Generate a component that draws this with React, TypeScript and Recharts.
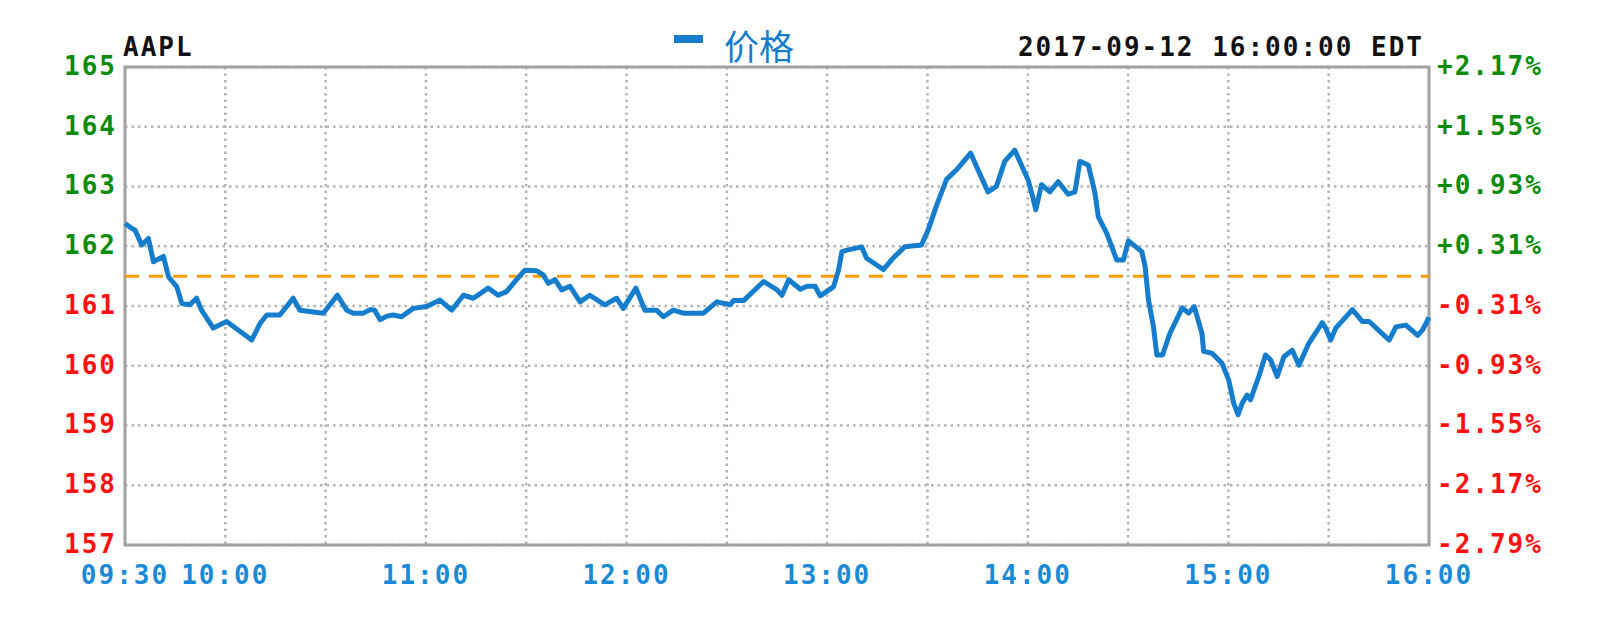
import React from 'react';
import { LineChart, Line, XAxis, YAxis, CartesianGrid, ReferenceLine, ReferenceArea } from 'recharts';

// minutes after 09:30 and last price (AAPL, 2017-09-12)
const minutes = [
	0, 2, 3, 5, 7, 8.5, 11.5, 13, 15.5, 17, 19.4, 21.4, 22.9, 26.4, 30.4, 37.9, 40.4, 42.4, 46.3, 50.3,
	52.3, 59.3, 63.5, 66.3, 68.3, 71.3, 73.3, 74.7, 76.3, 78.3, 80.2, 82.7, 86.2, 90.2, 94.2, 97.7, 101.2, 104.2, 108.6, 111.6,
	114.1, 117.1, 119.6, 123.1, 125.1, 126.6, 128.6, 130.6, 133.1, 136.1, 139, 143.5, 147, 149, 152.8, 155.5, 159, 161, 164, 167,
	173, 177, 181, 182, 185, 191, 195, 196.5, 198.5, 202, 204, 206.4, 207.9, 211.9, 213.4, 214.4, 216.3, 220.3, 221.8, 226.8,
	229.7, 233.2, 238.2, 240.2, 242.7, 245.7, 248.7, 252.9, 255.1, 258.1, 260.6, 263.1, 266.1, 270.1, 271.6, 272.4, 274.1, 276.6, 279.1, 282.1,
	284.1, 285.6, 288.1, 290.1, 291.1, 293.6, 296.6, 298.6, 300.1, 304.1, 305.1, 306.1, 307.6, 308.6, 310.3, 312.5, 316.2, 318.1, 319.8, 322.1,
	322.6, 325.1, 328.1, 330.1, 331.6, 332.9, 334.1, 335.6, 336.6, 339.1, 341.1, 342.6, 344.6, 346.6, 349.1, 351.1, 354.1, 358.1, 359.1, 360.6,
	362.1, 367.1, 370.1, 372.1, 378.1, 380.1, 383.1, 386.6, 388.1, 390,
];
const prices = [
	162.38, 162.3, 162.27, 162.02, 162.13, 161.74, 161.83, 161.49, 161.32, 161.04, 161.02, 161.13, 160.93, 160.63, 160.74, 160.43, 160.71, 160.85, 160.85, 161.13,
	160.93, 160.88, 161.18, 160.93, 160.88, 160.88, 160.94, 160.93, 160.77, 160.83, 160.85, 160.82, 160.96, 160.99, 161.1, 160.93, 161.18, 161.13, 161.3, 161.18,
	161.24, 161.44, 161.6, 161.59, 161.52, 161.38, 161.44, 161.27, 161.33, 161.07, 161.18, 161.02, 161.13, 160.96, 161.3, 160.93, 160.93, 160.82, 160.93, 160.88,
	160.88, 161.07, 161.02, 161.09, 161.09, 161.41, 161.27, 161.18, 161.44, 161.28, 161.33, 161.33, 161.17, 161.32, 161.6, 161.91, 161.94, 161.99, 161.8, 161.61,
	161.8, 161.99, 162.02, 162.27, 162.68, 163.12, 163.28, 163.56, 163.28, 162.91, 163.0, 163.42, 163.61, 163.11, 162.8, 162.61, 163.03, 162.91, 163.08, 162.87,
	162.91, 163.42, 163.36, 162.89, 162.49, 162.22, 161.77, 161.77, 162.09, 161.91, 161.66, 161.1, 160.65, 160.18, 160.18, 160.54, 160.97, 160.88, 160.99, 160.54,
	160.24, 160.21, 160.04, 159.76, 159.37, 159.18, 159.37, 159.51, 159.43, 159.82, 160.18, 160.1, 159.82, 160.15, 160.26, 160.01, 160.38, 160.72, 160.63, 160.43,
	160.63, 160.94, 160.74, 160.74, 160.43, 160.65, 160.68, 160.51, 160.6, 160.81,
];

const prevClose = 161.5;
const priceTicks = [157, 158, 159, 160, 161, 162, 163, 164, 165];
const timeTicks = [0, 30, 60, 90, 120, 150, 180, 210, 240, 270, 300, 330, 360, 390];
const timeLabels = ['09:30', '10:00', '', '11:00', '', '12:00', '', '13:00', '', '14:00', '', '15:00', '', '16:00'];

const symbol = 'AAPL';
const stamp = '2017-09-12 16:00:00 EDT';
const seriesName = '价格';

const BLUE = '#167dcc';
const LABEL_BLUE = '#1a8ad6';
const GREEN = '#0a8c0a';
const RED = '#ff1010';
const MONO = "'DejaVu Sans Mono', monospace";

const data = minutes.map((t, i) => ({ t, price: prices[i] }));

const pct = (v: number) => {
	const p = ((v - prevClose) / prevClose) * 100;
	return (p >= 0 ? '+' : '') + p.toFixed(2) + '%';
};

const LeftTick = (props: any) => {
	const { x, y, payload } = props;
	const v = payload.value;
	return (
		<text x={x} y={y} dy="0.3em" textAnchor="end" fill={v >= prevClose ? GREEN : RED}
			fontFamily={MONO} fontWeight="bold" fontSize={26} letterSpacing={2}>{v}</text>
	);
};

const RightTick = (props: any) => {
	const { x, y, payload } = props;
	const v = payload.value;
	return (
		<text x={x} y={y} dy="0.3em" textAnchor="start" fill={v >= prevClose ? GREEN : RED}
			fontFamily={MONO} fontWeight="bold" fontSize={26} letterSpacing={2}>{pct(v)}</text>
	);
};

export default function App() {
	return (
		<div style={{ position: 'absolute', left: 0, top: 0, width: 1599, height: 628, background: '#fff' }}>
			<LineChart width={1599} height={628} data={data} margin={{ top: 67, right: 0, bottom: 0, left: 0 }}>
				<CartesianGrid stroke="#b4b4b4" strokeWidth={2.5} strokeDasharray="2.5 4" />
				<XAxis dataKey="t" type="number" domain={[0, 390]} ticks={timeTicks} interval={0}
					tickFormatter={(t) => timeLabels[timeTicks.indexOf(t)] ?? ''}
					axisLine={false} tickLine={false} height={83} tickMargin={15}
					tick={{ fill: LABEL_BLUE, fontSize: 26, fontFamily: MONO, fontWeight: 'bold', letterSpacing: 2 }} />
				<YAxis domain={[157, 165]} ticks={priceTicks} interval={0} width={125}
					axisLine={false} tickLine={false} tick={<LeftTick />} />
				<YAxis yAxisId="right" orientation="right" domain={[157, 165]} ticks={priceTicks} interval={0} width={170}
					axisLine={false} tickLine={false} tick={<RightTick />} />
				<ReferenceArea x1={0} x2={390} y1={157} y2={165} fill="none" stroke="#a2a2a2" strokeWidth={3} />
				<ReferenceLine y={prevClose} stroke="#ff9c00" strokeWidth={3} strokeDasharray="14 10" />
				<Line yAxisId="right" type="linear" dataKey="price" stroke="none" dot={false} activeDot={false}
					legendType="none" isAnimationActive={false} />
				<Line type="linear" dataKey="price" stroke={BLUE} strokeWidth={5} strokeLinejoin="round"
					dot={false} isAnimationActive={false} />
			</LineChart>
			<svg width={1599} height={628} style={{ position: 'absolute', left: 0, top: 0, pointerEvents: 'none' }}>
				<text x={123} y={56} fontFamily={MONO} fontWeight="bold" fontSize={26} letterSpacing={2} fill="#111">{symbol}</text>
				<text x={1424} y={56} textAnchor="end" fontFamily={MONO} fontWeight="bold" fontSize={26} letterSpacing={2} fill="#111">{stamp}</text>
				<rect x={674} y={35} width={29} height={8} fill={BLUE} />
				<text x={724} y={60} fontFamily="'Noto Sans CJK SC', sans-serif" fontSize={35} fill={BLUE}>{seriesName}</text>
			</svg>
		</div>
	);
}
